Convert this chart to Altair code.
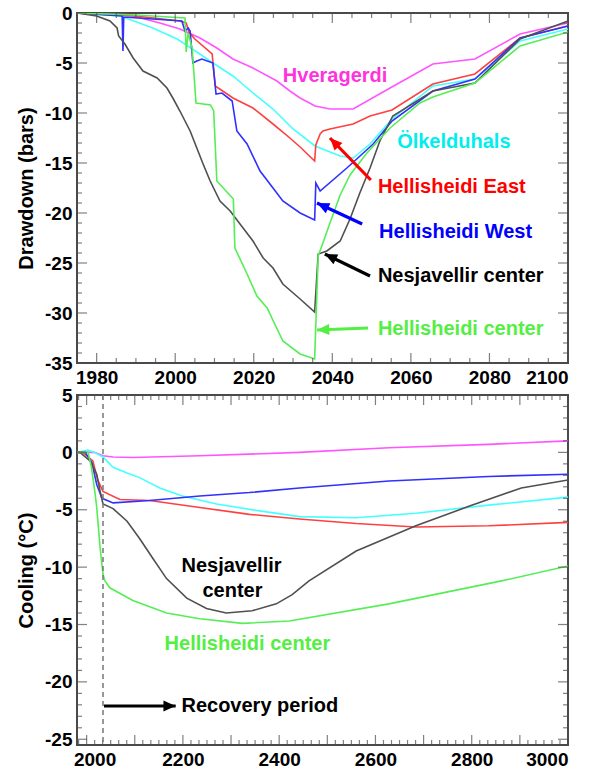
import math
import altair as alt
import pandas as pd

FONT = "Liberation Sans"

SERIES = ["Hveragerdi", "Ölkelduhals", "Hellisheidi East", "Hellisheidi West",
          "Nesjavellir center", "Hellisheidi center"]
LINE_COLORS = ["#ff55ff", "#44ffff", "#ff4040", "#3030ff", "#505050", "#55ee55"]
TEXT_COLORS = ["#ff33dd", "#00eeee", "#ff0000", "#0000ff", "#000000", "#55ee44"]

# ---------------- Drawdown (bars) ----------------
hv_dd_year = [1975, 1989.3, 1996.1, 2001.2, 2006.3, 2010.6, 2014.7, 2019.8, 2025.9, 2029.2,
              2031.8, 2035.6, 2039.4, 2045.3, 2054.7, 2065.6, 2076.3, 2087.8, 2100]
hv_dd = [0, -0.3, -1.0, -1.6, -2.5, -3.5, -4.6, -5.5, -6.8, -7.8,
         -8.5, -9.3, -9.6, -9.6, -7.5, -5.1, -4.6, -2.1, -1.0]

ok_dd_year = [1975, 1986, 1994.3, 2000.5, 2006.3, 2009.6, 2014.7, 2019.8, 2024.9, 2030,
              2035.6, 2042, 2045.3, 2049.6, 2055.2, 2065.6, 2076.3, 2087.8, 2100]
ok_dd = [0, -0.3, -1.5, -2.6, -4.1, -5.0, -6.3, -8.0, -9.6, -11.6,
         -13.3, -14.3, -14.5, -13.1, -10.6, -7.3, -6.6, -2.8, -1.6]

he_dd_year = [1975, 1990, 2001.2, 2002.8, 2003.5, 2005, 2009.4, 2010.2, 2014.7, 2019.8,
              2024.9, 2029.2, 2031.8, 2035.5, 2035.8, 2036.9, 2037.6, 2039.4, 2045.3, 2049.6,
              2055.2, 2065.6, 2076.3, 2087.8, 2100]
he_dd = [0, -0.3, -0.8, -1.0, -1.9, -2.6, -4.1, -7.3, -8.5, -9.5,
         -11.1, -12.5, -13.4, -14.8, -13.2, -12.1, -11.8, -11.6, -11.1, -10.3,
         -9.7, -7.1, -6.1, -2.5, -1.3]

hw_dd_year = [1975, 1986.5, 1986.7, 1986.9, 2001.7, 2002.5, 2003.3, 2003.8, 2004.5, 2005.5,
              2006.8, 2009.6, 2010.4, 2011.9, 2014.5, 2015.7, 2018.3, 2021.6, 2024.9, 2027.4,
              2031.8, 2035.5, 2035.8, 2036.9, 2043.7, 2050.4, 2055.2, 2065.6, 2076.3, 2087.8, 2100]
hw_dd = [0, -0.3, -3.8, -0.4, -0.8, -1.8, -1.5, -1.8, -5.0, -4.8,
         -4.6, -5.0, -8.1, -8.0, -8.8, -11.8, -13.1, -15.8, -17.5, -18.8,
         -20.0, -20.7, -17.0, -17.8, -15.5, -13.1, -10.8, -7.8, -6.6, -2.5, -1.3]

nc_dd_year = [1975, 1980, 1983.4, 1985.2, 1985.6, 1987.2, 1989.3, 1991.8, 1995.4, 1997.9,
              1999.4, 2001.2, 2003.8, 2005.5, 2007.1, 2008.9, 2011.4, 2014, 2016.5, 2019.8,
              2022.4, 2024.9, 2027.4, 2031.8, 2035.5, 2036.4, 2038.6, 2042, 2044.5, 2047,
              2049.6, 2052.1, 2055.4, 2065.6, 2076.3, 2087.8, 2100]
nc_dd = [0, -0.3, -0.8, -1.5, -2.3, -3.1, -4.5, -5.8, -6.5, -7.5,
         -8.5, -9.8, -11.8, -13.5, -15.1, -16.8, -18.8, -19.8, -21.1, -22.8,
         -24.5, -25.5, -27.1, -28.6, -29.9, -24.1, -23.8, -22.8, -20.6, -18.0,
         -15.5, -12.8, -10.3, -7.8, -7.0, -2.6, -0.8]

hc_dd_year = [1975, 1990, 2002.5, 2002.8, 2003.3, 2004.3, 2005.3, 2009.0, 2009.8, 2010.6,
              2014.8, 2015.2, 2018.3, 2020.8, 2023.4, 2027.4, 2031.8, 2035.5, 2036.4, 2037.6,
              2039.4, 2042, 2044.5, 2048.8, 2054.7, 2062.3, 2065.6, 2076.3, 2087.8, 2100]
hc_dd = [0, -0.2, -0.5, -3.9, -2.0, -3.5, -9.0, -9.2, -9.8, -16.8,
         -18.6, -23.5, -26.1, -28.3, -29.5, -32.8, -34.1, -34.6, -24.3, -23.0,
         -21.0, -18.2, -16.2, -14.0, -11.5, -9.0, -8.4, -7.0, -3.3, -1.9]

# ---------------- Cooling (°C) ----------------
hv_c_year = [1980, 2016, 2034, 2055, 2096, 2235, 2442, 2628, 2835, 3000]
hv_c = [0, 0, -0.3, -0.4, -0.45, -0.3, 0.0, 0.4, 0.7, 1.0]

ok_c_year = [1980, 2003, 2016, 2034, 2055, 2084, 2110, 2152, 2199, 2270,
             2359, 2442, 2560, 2684, 2835, 3000]
ok_c = [0, 0.2, 0, -0.4, -1.3, -1.8, -2.2, -3.1, -3.8, -4.5,
        -5.1, -5.6, -5.7, -5.3, -4.6, -3.9]

he_c_year = [1980, 1992, 2013, 2023, 2034, 2069, 2131, 2235, 2338, 2442, 2560, 2684, 2835, 3000]
he_c = [0, 0, -0.75, -2.4, -3.4, -4.1, -4.2, -4.8, -5.4, -5.8, -6.2, -6.5, -6.4, -6.1]

hw_c_year = [1980, 1997, 2011, 2021, 2032, 2055, 2131, 2235, 2338, 2442, 2628, 2835, 3000]
hw_c = [0, 0, -0.9, -2.8, -4.0, -4.4, -4.2, -3.8, -3.5, -3.1, -2.5, -2.1, -1.9]

nc_c_year = [1980, 1986, 2007, 2021, 2028, 2034, 2055, 2084, 2110, 2137,
             2166, 2208, 2249, 2290, 2344, 2394, 2427, 2462, 2560, 2684,
             2794, 2903, 3000]
nc_c = [0, 0, -0.75, -1.9, -3.4, -4.5, -4.9, -6.0, -7.5, -9.2,
        -11.0, -12.7, -13.6, -14.0, -13.8, -13.2, -12.4, -11.2, -8.6, -6.4,
        -4.7, -3.1, -2.4]

hc_c_year = [1980, 2003, 2010, 2017, 2021, 2028, 2034, 2038, 2048, 2096,
             2166, 2235, 2324, 2421, 2628, 2862, 3000]
hc_c = [0, 0, -1.3, -3.4, -4.8, -8.3, -10.6, -11.2, -11.8, -12.9,
        -14.0, -14.5, -14.9, -14.7, -13.2, -11.2, -9.9]

# ---------------- annotations ----------------
top_label_year = [2027.4, 2056.5, 2051.6, 2051.9, 2051.6, 2051.6]
top_label_val = [-6.3, -12.9, -17.4, -21.9, -26.3, -31.6]

arrow_series = ["Hellisheidi East", "Hellisheidi West", "Nesjavellir center", "Hellisheidi center"]
arrow_from_year = [2049.8, 2047.6, 2049.6, 2049.1]
arrow_from_val = [-16.7, -21.1, -26.3, -31.5]
arrow_to_year = [2039.4, 2036.1, 2038.1, 2036.1]
arrow_to_val = [-12.5, -19.0, -24.1, -31.7]

RECOVERY_START = 2034
recovery_arrow_year = [2036, 2185]
recovery_arrow_val = -22.1

# panel geometry
W, H = 491, 350
TOP_X = [1975, 2100]
TOP_Y = [-35, 0]
BOT_X = [1980, 3000]
BOT_Y = [-25.5, 5]

ARROW_PATH = "M0,0L-0.9,2L0.9,2Z"
PLAIN_LABEL = "'' + datum.value"   # keeps an ASCII hyphen as the minus sign


def series_frame(pairs):
    rows = []
    for name, years, vals in pairs:
        for i, (yr, v) in enumerate(zip(years, vals)):
            rows.append({"year": yr, "value": v, "series": name, "idx": i})
    return pd.DataFrame(rows)


def tick_layers(xenc, yenc, xdom, ydom, x_major, x_minor, y_major, y_minor):
    xr = []
    for v in x_major:
        xr += [{"year": v, "value": ydom[0], "len": 20}, {"year": v, "value": ydom[1], "len": 20}]
    for v in x_minor:
        xr += [{"year": v, "value": ydom[0], "len": 10}, {"year": v, "value": ydom[1], "len": 10}]
    yr = []
    for v in y_major:
        yr += [{"year": xdom[0], "value": v, "len": 20}, {"year": xdom[1], "value": v, "len": 20}]
    for v in y_minor:
        yr += [{"year": xdom[0], "value": v, "len": 10}, {"year": xdom[1], "value": v, "len": 10}]
    enc = dict(x=xenc("year"), y=yenc("value"), size=alt.Size("len:Q", scale=None))
    tx = alt.Chart(pd.DataFrame(xr)).mark_tick(orient="vertical", clip=True, thickness=1.2,
                                              color="#4a4a4a").encode(**enc)
    ty = alt.Chart(pd.DataFrame(yr)).mark_tick(orient="horizontal", clip=True, thickness=1.2,
                                              color="#4a4a4a").encode(**enc)
    return [tx, ty]


def arrow_frame(x0, y0, x1, y1, px_x, px_y, colors):
    rows = []
    for a, b, c, d, col in zip(x0, y0, x1, y1, colors):
        dx = (c - a) * px_x
        dy = -(d - b) * px_y
        ang = math.degrees(math.atan2(dx, -dy)) % 360
        rows.append({"x0": a, "y0": b, "x1": c, "y1": d, "ang": ang, "col": col})
    return pd.DataFrame(rows)


def arrow_layers(df, xenc, yenc):
    shaft = alt.Chart(df).mark_rule(strokeWidth=3.2).encode(
        x=xenc("x0"), y=yenc("y0"), x2="x1:Q", y2="y1:Q",
        color=alt.Color("col:N", scale=None),
    )
    head = alt.Chart(df).mark_point(shape=ARROW_PATH, filled=True, opacity=1,
                                    size=150, strokeWidth=0).encode(
        x=xenc("x1"), y=yenc("y1"),
        angle=alt.Angle("ang:Q", scale=None), color=alt.Color("col:N", scale=None),
    )
    return [shaft, head]


color_scale = alt.Scale(domain=SERIES, range=LINE_COLORS)
text_color = dict(zip(SERIES, TEXT_COLORS))

# ================= top panel: drawdown =================
xs_top = alt.Scale(domain=TOP_X, nice=False, zero=False)
ys_top = alt.Scale(domain=TOP_Y, nice=False, zero=False)
top_xaxis = alt.Axis(values=list(range(1980, 2101, 20)), labelExpr=PLAIN_LABEL, title=None,
                     ticks=False, domain=False, grid=False, labelPadding=5)
top_yaxis = alt.Axis(values=list(range(-35, 1, 5)), labelExpr=PLAIN_LABEL,
                     title="Drawdown (bars)", ticks=False, domain=False, grid=False,
                     labelPadding=5, titlePadding=8)


def top_x(field):
    return alt.X(f"{field}:Q", scale=xs_top, axis=top_xaxis)


def top_y(field):
    return alt.Y(f"{field}:Q", scale=ys_top, axis=top_yaxis)


top_df = series_frame([
    ("Hveragerdi", hv_dd_year, hv_dd),
    ("Ölkelduhals", ok_dd_year, ok_dd),
    ("Hellisheidi East", he_dd_year, he_dd),
    ("Hellisheidi West", hw_dd_year, hw_dd),
    ("Nesjavellir center", nc_dd_year, nc_dd),
    ("Hellisheidi center", hc_dd_year, hc_dd),
])

top_lines = alt.Chart(top_df).mark_line(strokeWidth=1.6, clip=True).encode(
    x=top_x("year"), y=top_y("value"),
    color=alt.Color("series:N", scale=color_scale, legend=None),
    order="idx:Q",
)

top_labels_df = pd.DataFrame({
    "year": top_label_year, "value": top_label_val, "text": SERIES,
    "col": [text_color[s] for s in SERIES],
})
top_labels = alt.Chart(top_labels_df).mark_text(
    align="left", baseline="middle", font=FONT, fontSize=20, fontWeight="bold"
).encode(
    x=top_x("year"), y=top_y("value"), text="text:N",
    color=alt.Color("col:N", scale=None),
)

top_arrows_df = arrow_frame(arrow_from_year, arrow_from_val, arrow_to_year, arrow_to_val,
                            W / (TOP_X[1] - TOP_X[0]), H / (TOP_Y[1] - TOP_Y[0]),
                            [text_color[s] for s in arrow_series])

top_ticks = tick_layers(
    top_x, top_y, TOP_X, TOP_Y,
    list(range(1980, 2101, 20)), [v for v in range(1975, 2101, 5) if (v - 1980) % 20],
    list(range(-35, 1, 5)), [v for v in range(-35, 1) if v % 5],
)

top = alt.layer(top_lines, *top_ticks, *arrow_layers(top_arrows_df, top_x, top_y),
                top_labels).properties(width=W, height=H)

# ================= bottom panel: cooling =================
xs_bot = alt.Scale(domain=BOT_X, nice=False, zero=False)
ys_bot = alt.Scale(domain=BOT_Y, nice=False, zero=False)
bot_xaxis = alt.Axis(values=list(range(2000, 3001, 200)), labelExpr=PLAIN_LABEL, title=None,
                     ticks=False, domain=False, grid=False, labelPadding=5,
                     labelOffset={"condition": {"test": "datum.value == 2000", "value": 8},
                                  "value": 0})
bot_yaxis = alt.Axis(values=list(range(-25, 6, 5)), labelExpr=PLAIN_LABEL,
                     title="Cooling (°C)", ticks=False, domain=False, grid=False,
                     labelPadding=5, titlePadding=8)


def bot_x(field):
    return alt.X(f"{field}:Q", scale=xs_bot, axis=bot_xaxis)


def bot_y(field):
    return alt.Y(f"{field}:Q", scale=ys_bot, axis=bot_yaxis)


bot_df = series_frame([
    ("Hveragerdi", hv_c_year, hv_c),
    ("Ölkelduhals", ok_c_year, ok_c),
    ("Hellisheidi East", he_c_year, he_c),
    ("Hellisheidi West", hw_c_year, hw_c),
    ("Nesjavellir center", nc_c_year, nc_c),
    ("Hellisheidi center", hc_c_year, hc_c),
])

bot_lines = alt.Chart(bot_df).mark_line(strokeWidth=1.6, clip=True).encode(
    x=bot_x("year"), y=bot_y("value"),
    color=alt.Color("series:N", scale=color_scale, legend=None),
    order="idx:Q",
)

recovery = alt.Chart(pd.DataFrame({"year": [RECOVERY_START]})).mark_rule(
    color="#777777", strokeWidth=1.5, strokeDash=[5, 4]
).encode(x=bot_x("year"))

bot_center_df = pd.DataFrame({
    "year": [2301, 2303], "value": [-9.9, -12.1], "text": ["Nesjavellir", "center"],
    "col": ["#000000", "#000000"],
})
bot_left_df = pd.DataFrame({
    "year": [2162, 2197], "value": [-16.7, recovery_arrow_val],
    "text": ["Hellisheidi center", "Recovery period"], "col": ["#55ee44", "#000000"],
})
bot_center = alt.Chart(bot_center_df).mark_text(
    align="center", baseline="middle", font=FONT, fontSize=20, fontWeight="bold"
).encode(x=bot_x("year"), y=bot_y("value"), text="text:N",
         color=alt.Color("col:N", scale=None))
bot_left = alt.Chart(bot_left_df).mark_text(
    align="left", baseline="middle", font=FONT, fontSize=20, fontWeight="bold"
).encode(x=bot_x("year"), y=bot_y("value"), text="text:N",
         color=alt.Color("col:N", scale=None))

rec_arrow_df = arrow_frame([recovery_arrow_year[0]], [recovery_arrow_val],
                           [recovery_arrow_year[1]], [recovery_arrow_val],
                           W / (BOT_X[1] - BOT_X[0]), H / (BOT_Y[1] - BOT_Y[0]), ["#000000"])

bot_ticks = tick_layers(
    bot_x, bot_y, BOT_X, BOT_Y,
    list(range(2000, 3001, 100)), [2000 + k * 100 / 6 for k in range(-1, 61) if k % 6],
    list(range(-25, 6, 5)), [v for v in range(-25, 6) if v % 5],
)

bottom = alt.layer(bot_lines, *bot_ticks, recovery, *arrow_layers(rec_arrow_df, bot_x, bot_y),
                   bot_center, bot_left).properties(width=W, height=H)

chart = alt.vconcat(top, bottom, spacing=32, bounds="flush").properties(
    padding={"left": 15, "top": 3, "right": 5, "bottom": 2}
).configure_view(
    stroke="#4a4a4a", strokeWidth=2
).configure_axis(
    labelFont=FONT, labelFontSize=19, labelFontWeight="bold", labelColor="#000000",
    titleFont=FONT, titleFontSize=20, titleFontWeight="bold", titleColor="#000000",
)

chart.save("out.html", embed_options={"renderer": "svg", "actions": False})
